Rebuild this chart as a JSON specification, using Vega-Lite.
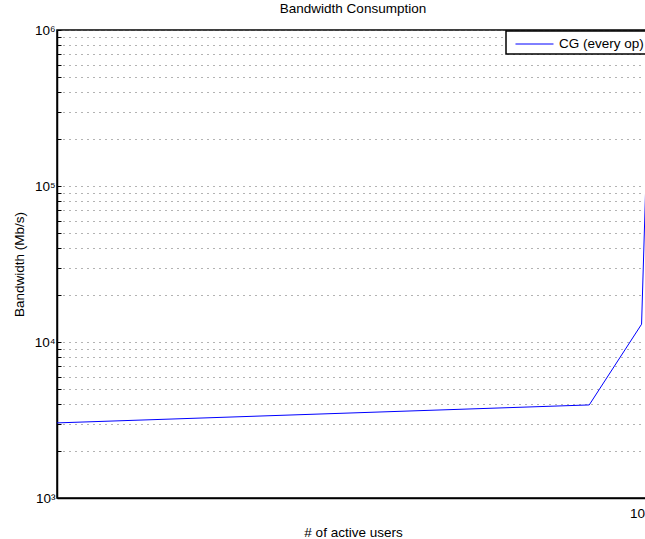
{
  "$schema": "https://vega.github.io/schema/vega-lite/v6.json",
  "width": 592,
  "height": 468,
  "autosize": {"type": "none"},
  "padding": {"left": 57, "top": 30, "right": 0, "bottom": 41},
  "background": "white",
  "config": {
    "font": "Liberation Sans",
    "view": {"stroke": "black", "strokeWidth": 1.5},
    "axis": {
      "labelFont": "Liberation Sans",
      "titleFont": "Liberation Sans",
      "labelColor": "black",
      "titleColor": "black",
      "titleFontWeight": "normal",
      "labelFontSize": 13.5,
      "titleFontSize": 13.5,
      "domainColor": "black",
      "domainWidth": 1.5,
      "tickColor": "black",
      "gridColor": "#666",
      "gridDash": [1, 5],
      "gridWidth": 1
    }
  },
  "title": {
    "text": "Bandwidth Consumption",
    "font": "Liberation Sans",
    "fontSize": 13.5,
    "fontWeight": "normal",
    "color": "black",
    "anchor": "middle",
    "offset": 8
  },
  "data": {
    "values": [
      {"users": 20, "bandwidth": 3030, "series": "CG (every op)"},
      {"users": 85, "bandwidth": 3950, "series": "CG (every op)"},
      {"users": 98, "bandwidth": 13000, "series": "CG (every op)"},
      {"users": 100, "bandwidth": 500000, "series": "CG (every op)"}
    ]
  },
  "mark": {"type": "line", "strokeWidth": 1, "clip": true},
  "encoding": {
    "x": {
      "field": "users",
      "type": "quantitative",
      "scale": {"type": "log", "domain": [20, 100], "nice": false},
      "axis": {
        "title": "# of active users",
        "titleBaseline": "alphabetic",
        "titleY": 38.5,
        "values": [100],
        "labelExpr": "datum.value == 100 ? '10²' : ''",
        "tickSize": -5,
        "labelPadding": 13,
        "grid": false
      }
    },
    "y": {
      "field": "bandwidth",
      "type": "quantitative",
      "scale": {"type": "log", "domain": [1000, 1000000], "nice": false},
      "axis": {
        "title": "Bandwidth (Mb/s)",
        "titlePadding": 8,
        "values": [1000, 2000, 3000, 4000, 5000, 6000, 7000, 8000, 9000, 10000, 20000, 30000, 40000, 50000, 60000, 70000, 80000, 90000, 100000, 200000, 300000, 400000, 500000, 600000, 700000, 800000, 900000, 1000000],
        "labelExpr": "datum.value == 1000 ? '10³' : datum.value == 10000 ? '10⁴' : datum.value == 100000 ? '10⁵' : datum.value == 1000000 ? '10⁶' : ''",
        "labelOverlap": false,
        "tickSize": -4,
        "labelPadding": 6,
        "grid": true
      }
    },
    "color": {
      "field": "series",
      "type": "nominal",
      "scale": {"range": ["#0000ff"]},
      "legend": {
        "title": null,
        "orient": "none",
        "legendX": 449,
        "legendY": 1,
        "symbolType": "M-0.37,0H3.63",
        "symbolSize": 361,
        "symbolStrokeWidth": 1,
        "labelFont": "Liberation Sans",
        "labelFontSize": 13.5,
        "labelColor": "black",
        "labelOffset": 30,
        "strokeColor": "black",
        "fillColor": "white",
        "padding": 3,
        "encode": {"legend": {"update": {"strokeWidth": {"value": 1.5}}}}
      }
    }
  }
}
